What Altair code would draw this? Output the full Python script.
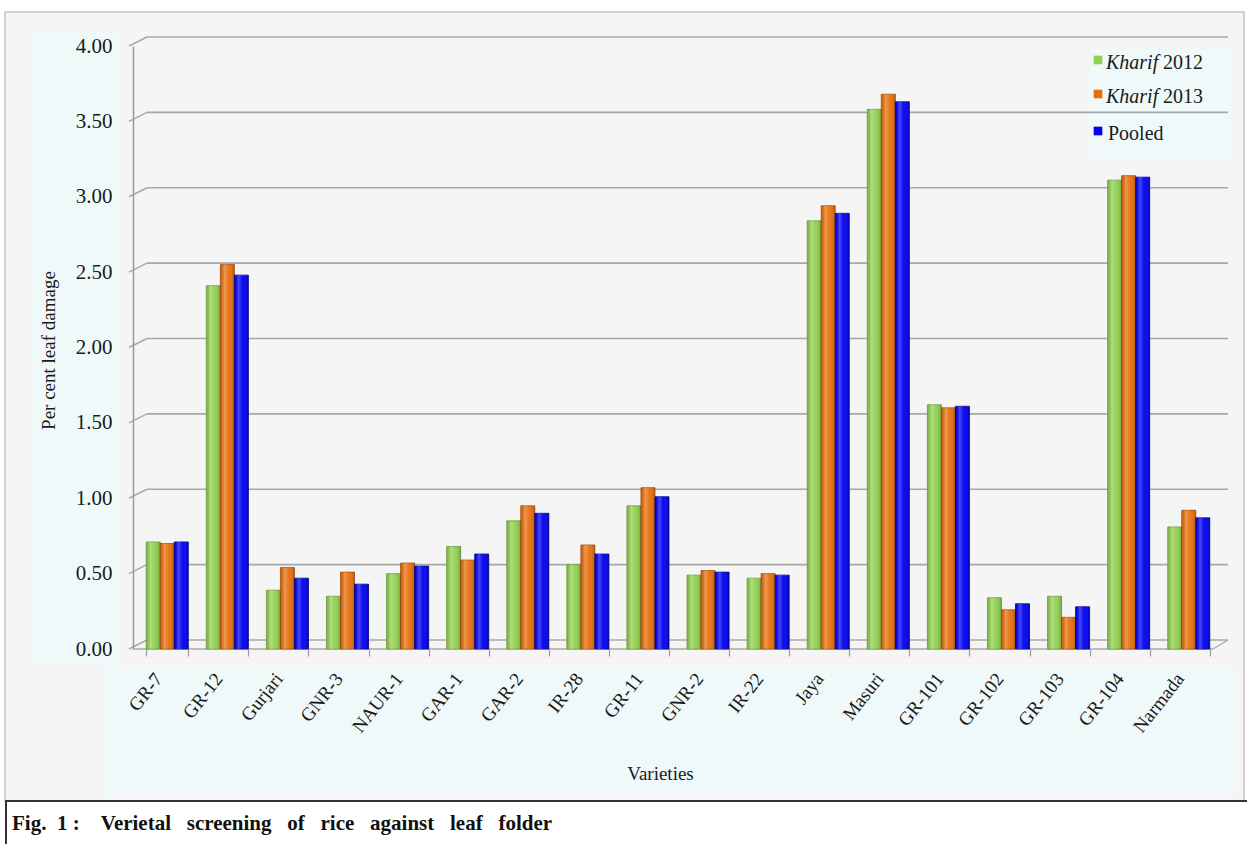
import altair as alt
import pandas as pd

# ---------------- data ----------------
varieties = ["GR-7", "GR-12", "Gurjari", "GNR-3", "NAUR-1", "GAR-1", "GAR-2", "IR-28",
             "GR-11", "GNR-2", "IR-22", "Jaya", "Masuri", "GR-101", "GR-102", "GR-103",
             "GR-104", "Narmada"]
series = ["Kharif 2012", "Kharif 2013", "Pooled"]
kharif_2012 = [0.71, 2.41, 0.39, 0.35, 0.50, 0.68, 0.85, 0.56, 0.95, 0.49, 0.47, 2.84, 3.58, 1.62, 0.34, 0.35, 3.11, 0.81]
kharif_2013 = [0.70, 2.55, 0.54, 0.51, 0.57, 0.59, 0.95, 0.69, 1.07, 0.52, 0.50, 2.94, 3.68, 1.60, 0.26, 0.21, 3.14, 0.92]
pooled      = [0.71, 2.48, 0.47, 0.43, 0.55, 0.63, 0.90, 0.63, 1.01, 0.51, 0.49, 2.89, 3.63, 1.61, 0.30, 0.28, 3.13, 0.87]
y_ticks = [0.0, 0.5, 1.0, 1.5, 2.0, 2.5, 3.0, 3.5, 4.0]
y_title = "Per cent leaf damage"
x_title = "Varieties"
caption_words = ["Fig.", "1 :", "Verietal", "screening", "of", "rice", "against", "leaf", "folder"]

# ---------------- styles ----------------
colors = ["#92d050", "#e8700c", "#0000f2"]
edge_colors = ["#6e9e3a", "#a84f08", "#00009a"]
FONT = "Liberation Serif"
TXT = "#1a1a1a"
GRID = "#a8a8a8"
PANEL = "#eff9f9"
W, H = 1090, 603
OX, OY = 133, 46          # plot origin on the canvas
NB = "\u00a0"
caption = caption_words[0] + NB * 2 + caption_words[1] + NB * 4 + (NB * 3).join(caption_words[2:])

rows = []
for i, v in enumerate(varieties):
    for s, vals in zip(series, [kharif_2012, kharif_2013, pooled]):
        rows.append({"variety": v, "series": s, "value": vals[i]})
df = pd.DataFrame(rows)
ticks_df = pd.DataFrame({"v": y_ticks})
one = pd.DataFrame({"a": [0]})

yscale = alt.Scale(domain=[0, 4], nice=False, zero=True)
yaxis = alt.Axis(title=y_title, values=y_ticks, format=".2f", grid=False, ticks=False, tickSize=0,
                 labelPadding=21, labelFont=FONT, labelFontSize=21, labelColor=TXT,
                 domain=True, domainColor="#9a9a9a", domainWidth=1.5,
                 titleFont=FONT, titleFontSize=19, titleFontWeight="normal", titleColor=TXT,
                 titleX=48 - OX, titleY=350 - OY, titleAngle=270, titleAlign="center",
                 titleBaseline="middle", zindex=1)
xaxis = alt.Axis(title=x_title, labelAngle=-52, labelAlign="right", labelBaseline="middle",
                 labelPadding=19, labelOffset=-9, labelFont=FONT, labelFontSize=19, labelColor=TXT,
                 domain=False, ticks=True, tickBand="extent", tickSize=7, tickColor="#9a9a9a",
                 tickWidth=1.2, grid=False,
                 titleFont=FONT, titleFontSize=19, titleFontWeight="normal", titleColor=TXT,
                 titleX=660 - OX, titleY=773 - OY - H, titleAlign="center", titleBaseline="middle",
                 zindex=1)
xenc = alt.X("variety:N", sort=varieties,
             scale=alt.Scale(paddingInner=0.3, paddingOuter=0.22), axis=xaxis)
xoff = alt.XOffset("series:N", sort=series,
                   scale=alt.Scale(domain=series, paddingInner=0, paddingOuter=0))


def rect(x1, y1, x2, y2, fill=None, stroke=None, sw=1.0):
    kw = {}
    if fill is not None:
        kw["fill"] = fill
    else:
        kw["filled"] = False
    if stroke is not None:
        kw["stroke"] = stroke
        kw["strokeWidth"] = sw
    return alt.Chart(one).mark_rect(**kw).encode(
        x=alt.value(x1 - OX), x2=alt.value(x2 - OX),
        y=alt.value(y1 - OY), y2=alt.value(y2 - OY))


def line(x1, y1, x2, y2, color, sw):
    return alt.Chart(one).mark_rule(color=color, strokeWidth=sw).encode(
        x=alt.value(x1 - OX), x2=alt.value(x2 - OX),
        y=alt.value(y1 - OY), y2=alt.value(y2 - OY))


deco = [
    rect(0, 0, 1247, 12, fill="white"),
    rect(0, 0, 5, 844, fill="white"),
    rect(1244, 0, 1247, 844, fill="white"),
    rect(0, 801, 1247, 844, fill="white"),
    rect(5, 12, 1244, 801, stroke="#c4c4c4", sw=1.5),
    rect(32, 32, 120, 665, fill=PANEL),
    rect(102, 667, 1235, 795, fill=PANEL),
    rect(1090, 50, 1232, 157, fill=PANEL),
    line(5, 801, 1247, 801, "#333333", 2),
    line(6, 801, 6, 844, "#333333", 2),
]

cap = alt.Chart(one).mark_text(align="left", baseline="middle", font=FONT, fontSize=21,
                               fontWeight="bold", color="#111111").encode(
    x=alt.value(12 - OX), y=alt.value(824 - OY), text=alt.value(caption))

# back-wall gridlines and 3D-ish diagonals
grid = alt.Chart(ticks_df).mark_rule(color=GRID, strokeWidth=1.6, yOffset=-9).encode(
    y=alt.Y("v:Q", scale=yscale, axis=yaxis), x=alt.value(14), x2=alt.value(W + 5))
diag = alt.Chart(ticks_df).mark_rule(color=GRID, strokeWidth=1.4, y2Offset=-9).encode(
    y=alt.Y("v:Q", scale=yscale, axis=yaxis), y2=alt.Y2("v"), x=alt.value(-4), x2=alt.value(14))
zero_df = pd.DataFrame({"v": [0.0]})
floor_front = alt.Chart(zero_df).mark_rule(color=GRID, strokeWidth=1.6).encode(
    y=alt.Y("v:Q", scale=yscale, axis=yaxis), x=alt.value(0), x2=alt.value(W - 10))
floor_right = alt.Chart(zero_df).mark_rule(color=GRID, strokeWidth=1.4, y2Offset=-9).encode(
    y=alt.Y("v:Q", scale=yscale, axis=yaxis), y2=alt.Y2("v"), x=alt.value(W - 10), x2=alt.value(W + 5))

bars = alt.Chart(df).mark_bar(strokeWidth=0.8).encode(
    x=xenc, xOffset=xoff,
    y=alt.Y("value:Q", scale=yscale, axis=yaxis),
    color=alt.Color("series:N", scale=alt.Scale(domain=series, range=colors), legend=None),
    stroke=alt.Stroke("series:N", scale=alt.Scale(domain=series, range=edge_colors), legend=None),
)
shade = alt.Gradient(
    gradient="linear", x1=0, x2=1, y1=0, y2=0,
    stops=[alt.GradientStop(offset=0, color="rgba(0,0,0,0.10)"),
           alt.GradientStop(offset=0.3, color="rgba(255,255,255,0.28)"),
           alt.GradientStop(offset=0.6, color="rgba(255,255,255,0.04)"),
           alt.GradientStop(offset=1, color="rgba(0,0,0,0.22)")])
gloss = alt.Chart(df).mark_bar(color=shade).encode(
    x=xenc, xOffset=xoff, y=alt.Y("value:Q", scale=yscale, axis=yaxis))

# legend (manual, to allow italic "Kharif")
legend_rows_y = [63, 97, 134]
leg = []
for i, s in enumerate(series):
    parts = s.split(" ", 1)
    italic, rest = (parts[0], parts[1]) if s.startswith("Kharif") else ("", s)
    ly = legend_rows_y[i] - OY
    leg.append(alt.Chart(one).mark_square(size=75, color=colors[i], opacity=1).encode(
        x=alt.value(1098 - OX), y=alt.value(ly - 3)))
    if italic:
        leg.append(alt.Chart(one).mark_text(align="left", baseline="middle", font=FONT, fontSize=20,
                                            fontStyle="italic", color=TXT).encode(
            x=alt.value(1106 - OX), y=alt.value(ly), text=alt.value(italic)))
        leg.append(alt.Chart(one).mark_text(align="left", baseline="middle", font=FONT, fontSize=20,
                                            color=TXT).encode(
            x=alt.value(1163 - OX), y=alt.value(ly), text=alt.value(rest)))
    else:
        leg.append(alt.Chart(one).mark_text(align="left", baseline="middle", font=FONT, fontSize=20,
                                            color=TXT).encode(
            x=alt.value(1108 - OX), y=alt.value(ly), text=alt.value(rest)))

chart = alt.layer(*deco, cap, grid, diag, floor_front, floor_right, bars, gloss, *leg).properties(
    width=W, height=H,
    background="#f5f5f5",
    padding={"left": OX, "top": OY, "right": 1247 - OX - W, "bottom": 844 - OY - H},
    autosize=alt.AutoSizeParams(type="none"),
).configure_view(stroke=None)

chart.save("out.html", embed_options={"renderer": "svg", "actions": False})
